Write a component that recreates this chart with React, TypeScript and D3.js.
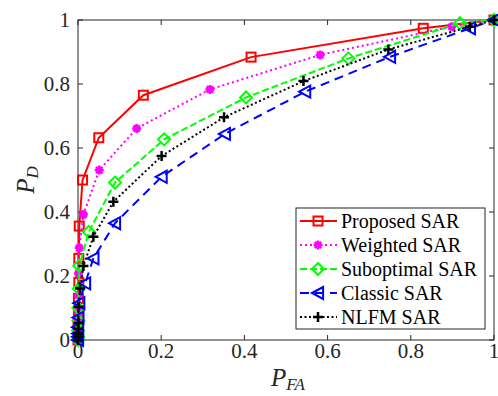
import React from "react";
import * as d3 from "d3";

const W = 498, H = 396;
const M = { left: 78, right: 4, top: 20, bottom: 56 };

const seriesNames = ["Proposed SAR", "Weighted SAR", "Suboptimal SAR", "Classic SAR", "NLFM SAR"];

const proposedX = [0, 0, 0, 0.001, 0.001, 0.002, 0.002, 0.003, 0.011, 0.050, 0.157, 0.416, 0.830, 1];
const proposedY = [0, 0.02, 0.05, 0.09, 0.13, 0.18, 0.255, 0.356, 0.50, 0.632, 0.765, 0.884, 0.974, 1];

const weightedX = [0, 0, 0, 0, 0.001, 0.001, 0.003, 0.013, 0.051, 0.141, 0.317, 0.582, 0.898, 1];
const weightedY = [0, 0.02, 0.05, 0.09, 0.14, 0.208, 0.288, 0.392, 0.531, 0.661, 0.783, 0.891, 0.979, 1];

const suboptX = [0, 0, 0, 0.001, 0.001, 0.002, 0.003, 0.026, 0.089, 0.207, 0.404, 0.650, 0.918, 1];
const suboptY = [0, 0.01, 0.03, 0.06, 0.10, 0.16, 0.232, 0.338, 0.492, 0.627, 0.758, 0.880, 0.990, 1];

const classicX = [0, 0, 0, 0, 0.001, 0.003, 0.017, 0.037, 0.089, 0.201, 0.353, 0.546, 0.75, 0.942, 1];
const classicY = [0, 0.01, 0.02, 0.04, 0.07, 0.115, 0.177, 0.255, 0.365, 0.510, 0.644, 0.776, 0.885, 0.974, 1];

const nlfmX = [0, 0, 0, 0, 0.001, 0.001, 0.005, 0.013, 0.037, 0.085, 0.201, 0.351, 0.542, 0.746, 0.942, 1];
const nlfmY = [0, 0.01, 0.02, 0.035, 0.053, 0.104, 0.161, 0.231, 0.323, 0.432, 0.575, 0.696, 0.809, 0.908, 0.979, 1];

const xTicks = [0, 0.2, 0.4, 0.6, 0.8, 1];
const yTicks = [0, 0.2, 0.4, 0.6, 0.8, 1];

const styles = [
  { color: "#ff0000", dash: "none", marker: "square" },
  { color: "#ff00ff", dash: "2 3", marker: "star" },
  { color: "#00ff00", dash: "7 3", marker: "diamond" },
  { color: "#0000ff", dash: "9 6", marker: "ltri" },
  { color: "#000000", dash: "2 2.5", marker: "plus" },
];

const FONT = "Liberation Serif, DejaVu Serif, serif";

function Marker({ type, x, y, color }: { type: string; x: number; y: number; color: string }) {
  const sw = 2;
  if (type === "square") {
    const s = 4.5;
    return <rect x={x - s} y={y - s} width={2 * s} height={2 * s} fill="none" stroke={color} strokeWidth={sw} />;
  }
  if (type === "diamond") {
    const s = 6;
    return <path d={`M${x},${y - s}L${x + s},${y}L${x},${y + s}L${x - s},${y}Z`} fill="none" stroke={color} strokeWidth={sw} />;
  }
  if (type === "ltri") {
    const s = 6;
    return <path d={`M${x - s},${y}L${x + s * 0.85},${y - s}L${x + s * 0.85},${y + s}Z`} fill="none" stroke={color} strokeWidth={sw} />;
  }
  if (type === "plus") {
    const s = 5;
    return <path d={`M${x - s},${y}L${x + s},${y}M${x},${y - s}L${x},${y + s}`} stroke={color} strokeWidth={sw + 0.5} />;
  }
  const s = 4.5;
  const d = s * 0.7071;
  return (
    <g>
      <path d={`M${x - s},${y}L${x + s},${y}M${x},${y - s}L${x},${y + s}M${x - d},${y - d}L${x + d},${y + d}M${x - d},${y + d}L${x + d},${y - d}`} stroke={color} strokeWidth={2.5} />
      <circle cx={x} cy={y} r={3} fill={color} />
    </g>
  );
}

export default function App() {
  const x = d3.scaleLinear().domain([0, 1]).range([M.left, W - M.right]);
  const y = d3.scaleLinear().domain([0, 1]).range([H - M.bottom, M.top]);
  const data = [
    [proposedX, proposedY],
    [weightedX, weightedY],
    [suboptX, suboptY],
    [classicX, classicY],
    [nlfmX, nlfmY],
  ];
  const line = d3.line<[number, number]>().x((d) => x(d[0])).y((d) => y(d[1]));
  const axisColor = "#262626";
  const x0 = x(0), x1 = x(1), y0 = y(0), y1 = y(1);
  const tl = 5;
  const tf = { fontFamily: FONT };

  const legX = 296, legY = 208, legW = 189, legH = 121, legRow = 24;

  return (
    <svg width={W} height={H} style={{ position: "absolute", left: 0, top: 0, background: "#fff" }}>
      <rect x={0} y={0} width={W} height={H} fill="#fff" />
      <rect x={x0} y={y1} width={x1 - x0} height={y0 - y1} fill="none" stroke={axisColor} strokeWidth={1} />
      {xTicks.map((t) => (
        <g key={"xt" + t}>
          <line x1={x(t)} x2={x(t)} y1={y0} y2={y0 - tl} stroke={axisColor} />
          <line x1={x(t)} x2={x(t)} y1={y1} y2={y1 + tl} stroke={axisColor} />
          <text x={x(t)} y={y0 + 18} fontSize={21} textAnchor="middle" fill="#262626" style={tf}>{String(t)}</text>
        </g>
      ))}
      {yTicks.map((t) => (
        <g key={"yt" + t}>
          <line x1={x0} x2={x0 + tl} y1={y(t)} y2={y(t)} stroke={axisColor} />
          <line x1={x1} x2={x1 - tl} y1={y(t)} y2={y(t)} stroke={axisColor} />
          <text x={x0 - 8} y={y(t) + 7} fontSize={21} textAnchor="end" fill="#262626" style={tf}>{String(t)}</text>
        </g>
      ))}
      {data.map(([xs, ys], i) => {
        const pts = xs.map((v, k) => [v, ys[k]] as [number, number]);
        const st = styles[i];
        return (
          <g key={"s" + i}>
            <path d={line(pts) || ""} fill="none" stroke={st.color} strokeWidth={2} strokeDasharray={st.dash} />
            {pts.map((p, k) => (
              <Marker key={k} type={st.marker} x={x(p[0])} y={y(p[1])} color={st.color} />
            ))}
          </g>
        );
      })}
      <text x={288} y={386} fontSize={25} fontStyle="italic" textAnchor="middle" fill="#262626" style={tf}>
        P<tspan fontSize={17} dy={4}>FA</tspan>
      </text>
      <text transform={`translate(34,180) rotate(-90)`} fontSize={25} fontStyle="italic" textAnchor="middle" fill="#262626" style={tf}>
        P<tspan fontSize={17} dy={4}>D</tspan>
      </text>
      <rect x={legX} y={legY} width={legW} height={legH} fill="#fff" stroke={axisColor} strokeWidth={1} />
      {seriesNames.map((name, i) => {
        const st = styles[i];
        const cy = legY + 13 + i * legRow;
        return (
          <g key={"l" + i}>
            <line x1={legX + 4} x2={legX + 41} y1={cy} y2={cy} stroke={st.color} strokeWidth={2} strokeDasharray={st.dash} />
            <Marker type={st.marker} x={legX + 22} y={cy} color={st.color} />
            <text x={legX + 45} y={cy + 7} fontSize={20} fill="#000" style={tf}>{name}</text>
          </g>
        );
      })}
    </svg>
  );
}
